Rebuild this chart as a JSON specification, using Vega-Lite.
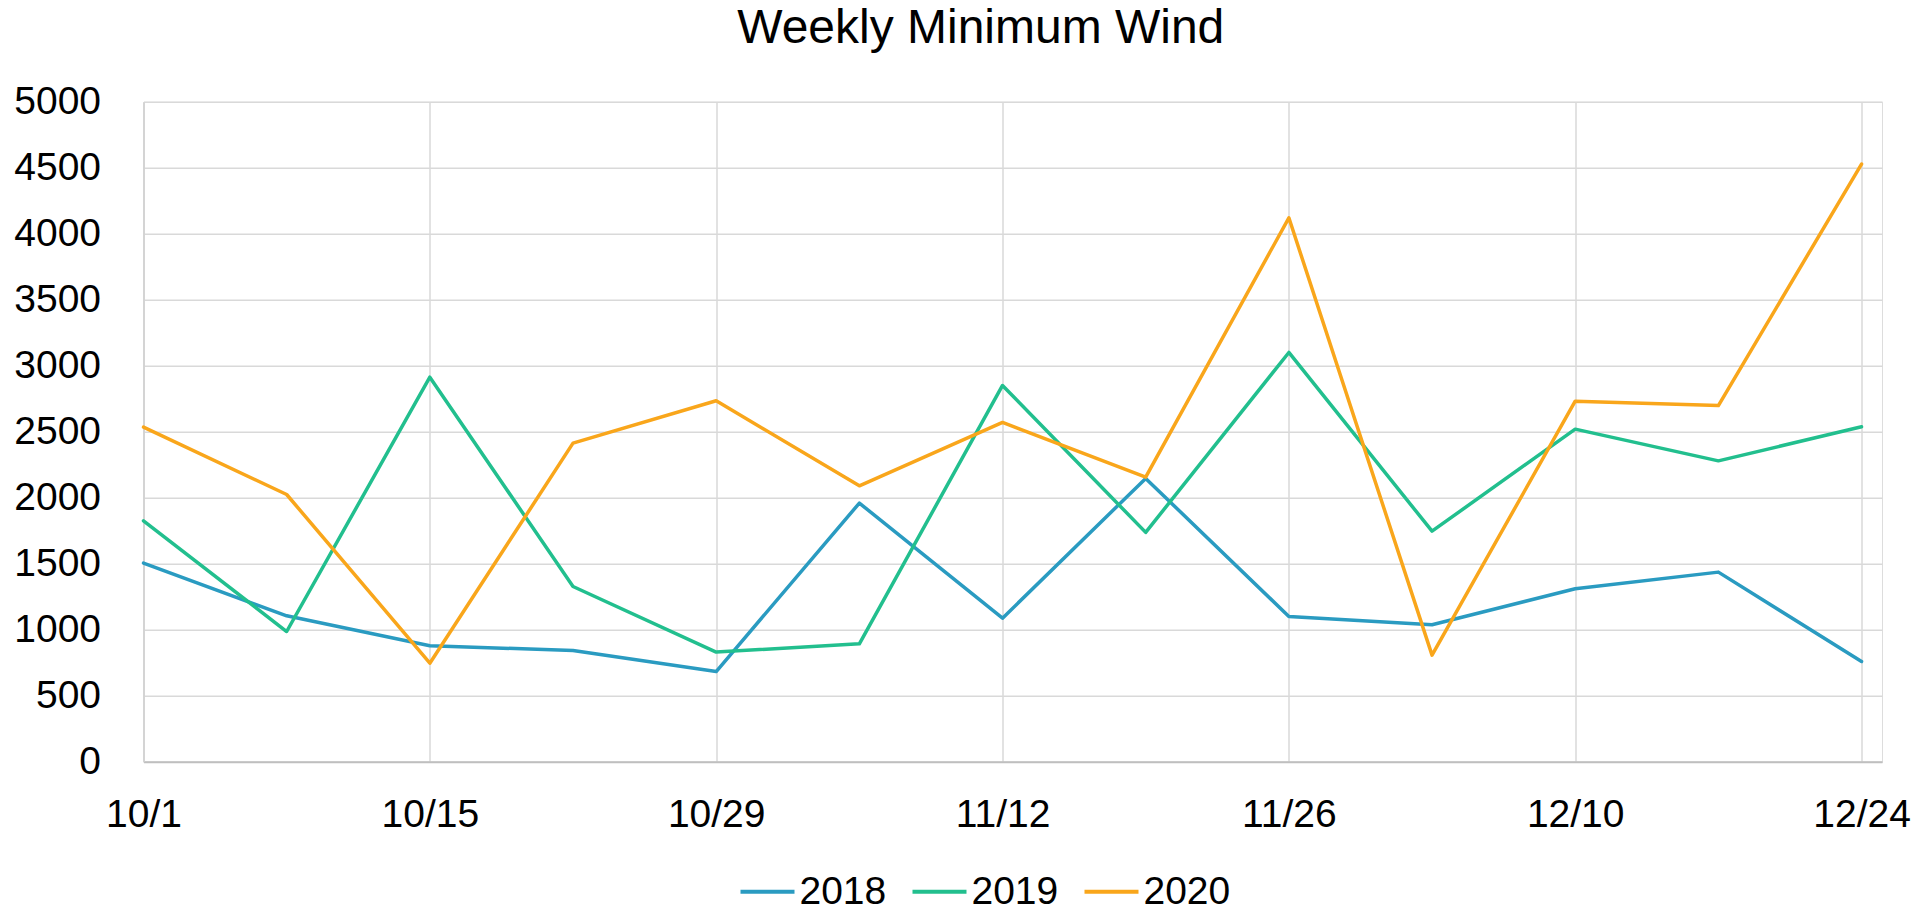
{
  "$schema": "https://vega.github.io/schema/vega-lite/v6.json",
  "width": 1738.5,
  "height": 660,
  "autosize": {"type": "none"},
  "padding": {"left": 143.5, "top": 101.8, "right": 41, "bottom": 147},
  "background": "white",
  "title": {
    "text": "Weekly Minimum Wind",
    "font": "Liberation Sans",
    "fontSize": 48,
    "fontWeight": "normal",
    "color": "#000000",
    "anchor": "middle",
    "frame": "group",
    "offset": 30,
    "dx": -32
  },
  "data": {
    "values": [
      {"date": "2020-10-01", "year": "2018", "wind": 1505},
      {"date": "2020-10-08", "year": "2018", "wind": 1106},
      {"date": "2020-10-15", "year": "2018", "wind": 879},
      {"date": "2020-10-22", "year": "2018", "wind": 843},
      {"date": "2020-10-29", "year": "2018", "wind": 684},
      {"date": "2020-11-05", "year": "2018", "wind": 1960},
      {"date": "2020-11-12", "year": "2018", "wind": 1088},
      {"date": "2020-11-19", "year": "2018", "wind": 2147},
      {"date": "2020-11-26", "year": "2018", "wind": 1101},
      {"date": "2020-12-03", "year": "2018", "wind": 1038},
      {"date": "2020-12-10", "year": "2018", "wind": 1311},
      {"date": "2020-12-17", "year": "2018", "wind": 1437},
      {"date": "2020-12-24", "year": "2018", "wind": 760},
      {"date": "2020-10-01", "year": "2019", "wind": 1826},
      {"date": "2020-10-08", "year": "2019", "wind": 987},
      {"date": "2020-10-15", "year": "2019", "wind": 2914},
      {"date": "2020-10-22", "year": "2019", "wind": 1328},
      {"date": "2020-10-29", "year": "2019", "wind": 831},
      {"date": "2020-11-05", "year": "2019", "wind": 894},
      {"date": "2020-11-12", "year": "2019", "wind": 2851},
      {"date": "2020-11-19", "year": "2019", "wind": 1738},
      {"date": "2020-11-26", "year": "2019", "wind": 3101},
      {"date": "2020-12-03", "year": "2019", "wind": 1747},
      {"date": "2020-12-10", "year": "2019", "wind": 2520},
      {"date": "2020-12-17", "year": "2019", "wind": 2280},
      {"date": "2020-12-24", "year": "2019", "wind": 2538},
      {"date": "2020-10-01", "year": "2020", "wind": 2535},
      {"date": "2020-10-08", "year": "2020", "wind": 2025},
      {"date": "2020-10-15", "year": "2020", "wind": 747},
      {"date": "2020-10-22", "year": "2020", "wind": 2414},
      {"date": "2020-10-29", "year": "2020", "wind": 2735},
      {"date": "2020-11-05", "year": "2020", "wind": 2091},
      {"date": "2020-11-12", "year": "2020", "wind": 2571},
      {"date": "2020-11-19", "year": "2020", "wind": 2156},
      {"date": "2020-11-26", "year": "2020", "wind": 4121},
      {"date": "2020-12-03", "year": "2020", "wind": 808},
      {"date": "2020-12-10", "year": "2020", "wind": 2732},
      {"date": "2020-12-17", "year": "2020", "wind": 2699},
      {"date": "2020-12-24", "year": "2020", "wind": 4528}
    ]
  },
  "mark": {"type": "line", "strokeWidth": 3.5, "strokeJoin": "round", "strokeCap": "round"},
  "encoding": {
    "x": {
      "field": "date",
      "type": "temporal",
      "scale": {
        "type": "utc",
        "domain": [
          {"year": 2020, "month": 10, "date": 1, "utc": true},
          {"year": 2020, "month": 12, "date": 25, "utc": true}
        ],
        "nice": false
      },
      "axis": {
        "title": null,
        "format": "%-m/%-d",
        "values": [
          {"year": 2020, "month": 10, "date": 1, "utc": true},
          {"year": 2020, "month": 10, "date": 15, "utc": true},
          {"year": 2020, "month": 10, "date": 29, "utc": true},
          {"year": 2020, "month": 11, "date": 12, "utc": true},
          {"year": 2020, "month": 11, "date": 26, "utc": true},
          {"year": 2020, "month": 12, "date": 10, "utc": true},
          {"year": 2020, "month": 12, "date": 24, "utc": true}
        ],
        "grid": true,
        "gridColor": "#D9D9D9",
        "gridWidth": 1.5,
        "ticks": false,
        "domain": true,
        "domainColor": "#BFBFBF",
        "domainWidth": 2,
        "labelFont": "Liberation Sans",
        "labelFontSize": 39,
        "labelColor": "#000000",
        "labelPadding": 34,
        "labelFlush": false,
        "labelOverlap": false,
        "labelBound": false
      }
    },
    "y": {
      "field": "wind",
      "type": "quantitative",
      "scale": {"domain": [0, 5000], "nice": false},
      "axis": {
        "title": null,
        "values": [0, 500, 1000, 1500, 2000, 2500, 3000, 3500, 4000, 4500, 5000],
        "format": "d",
        "grid": true,
        "gridColor": "#D9D9D9",
        "gridWidth": 1.5,
        "ticks": false,
        "domain": true,
        "domainColor": "#D0D0D0",
        "domainWidth": 1.5,
        "labelFont": "Liberation Sans",
        "labelFontSize": 39,
        "labelColor": "#000000",
        "labelPadding": 43,
        "labelOverlap": false,
        "labelBound": false
      }
    },
    "color": {
      "field": "year",
      "type": "nominal",
      "scale": {"domain": ["2018", "2019", "2020"], "range": ["#2A9BC1", "#22BF8E", "#F9A61B"]},
      "legend": {
        "title": null,
        "orient": "none",
        "direction": "horizontal",
        "legendX": 595,
        "legendY": 761,
        "padding": 0,
        "symbolType": "stroke",
        "symbolSize": 2916,
        "symbolStrokeWidth": 4,
        "labelFont": "Liberation Sans",
        "labelFontSize": 39,
        "labelColor": "#000000",
        "labelOffset": 3,
        "columnPadding": 18
      }
    }
  }
}
